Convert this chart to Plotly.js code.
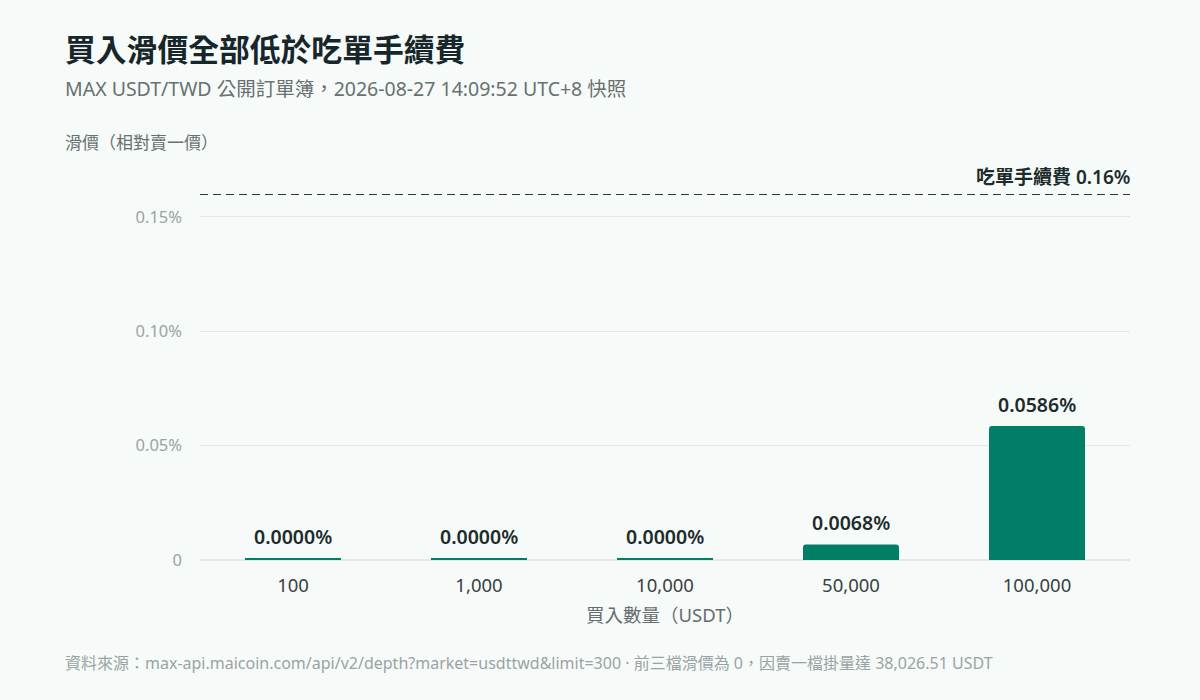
<!DOCTYPE html>
<html>
<head>
<meta charset="utf-8">
<script src="https://cdn.plot.ly/plotly-3.0.1.min.js"></script>
<style>
  html, body { margin: 0; padding: 0; background: #f6faf9; }
  #chart { width: 1200px; height: 700px; }
</style>
</head>
<body>
<div id="chart"></div>
<script>
(function () {
  // buy size in USDT, slippage in percent vs best ask
  var sizes = ["100", "1,000", "10,000", "50,000", "100,000"];
  var slippagePct = [0, 0, 0, 0.0068, 0.0586];
  var takerFeePct = 0.16;
  var yTickVals = [0, 0.05, 0.10, 0.15];
  var yTickText = ["0", "0.05%", "0.10%", "0.15%"];

  var FONT = '"Noto Sans", "Noto Sans CJK TC", sans-serif';
  var BAR = "#007f66";
  var LEFT = -0.147;

  // zero bars still get a thin stub so they are visible
  var stub = slippagePct.map(function (v) {
    return v === 0 ? 4 : 0;
  });

  // category axis: annotation x is the category index
  var barLabels = slippagePct.map(function (v, i) {
    return {
      xref: "x", yref: "y", x: i, y: v,
      xanchor: "center", yanchor: "bottom", yshift: 6 + stub[i] / 2,
      text: v.toFixed(4) + "%",
      showarrow: false,
      font: { family: FONT, size: 19.5, color: "#1c2b2b", weight: 600 },
    };
  });

  var textNotes = [
    {
      xref: "paper", yref: "y", x: 1, y: takerFeePct,
      xanchor: "right", yanchor: "bottom", yshift: 2, xshift: 2,
      text: "吃單手續費 " + takerFeePct.toFixed(2) + "%",
      showarrow: false,
      font: { family: FONT, size: 19, color: "#1c2b2b", weight: 600 },
    },
    {
      xref: "paper", yref: "paper", x: LEFT, y: 1, xanchor: "left", yanchor: "bottom",
      yshift: 122, text: "<b>買入滑價全部低於吃單手續費</b>", showarrow: false,
      font: { family: FONT, size: 30.8, color: "#17262a" },
    },
    {
      xref: "paper", yref: "paper", x: LEFT, y: 1, xanchor: "left", yanchor: "bottom",
      yshift: 90, text: "MAX USDT/TWD 公開訂單簿，2026-08-27 14:09:52 UTC+8 快照", showarrow: false,
      font: { family: FONT, size: 19.5, color: "#687070" },
    },
    {
      xref: "paper", yref: "paper", x: LEFT, y: 1, xanchor: "left", yanchor: "bottom",
      yshift: 38, text: "滑價（相對賣一價）", showarrow: false,
      font: { family: FONT, size: 17, color: "#687070" },
    },
    {
      xref: "paper", yref: "paper", x: LEFT, y: 0, xanchor: "left", yanchor: "top",
      yshift: -90,
      text: "資料來源：max-api.maicoin.com/api/v2/depth?market=usdttwd&limit=300 · 前三檔滑價為 0，因賣一檔掛量達 38,026.51 USDT",
      showarrow: false,
      font: { family: FONT, size: 16, color: "#9aa3a3" },
    },
  ];

  Plotly.newPlot(
    "chart",
    [
      {
        type: "bar",
        x: sizes,
        y: slippagePct,
        marker: { color: BAR, line: { color: BAR, width: stub } },
        hoverinfo: "skip",
      },
    ],
    {
      width: 1200,
      height: 700,
      margin: { t: 194, r: 70, b: 140, l: 200 },
      paper_bgcolor: "#f6faf9",
      plot_bgcolor: "#f6faf9",
      font: { family: FONT, color: "#333" },
      bargap: 0.484,
      barcornerradius: 3,
      showlegend: false,
      xaxis: {
        type: "category",
        range: [-0.5, sizes.length - 0.5],
        tickfont: { family: FONT, size: 18.5, color: "#3a4040" },
        ticks: "",
        ticklabelstandoff: 12,
        showgrid: false,
        showline: false,
        zeroline: false,
        title: { text: "買入數量（USDT）", font: { family: FONT, size: 18.5, color: "#666d6d" }, standoff: 13 },
      },
      yaxis: {
        range: [0, takerFeePct],
        tickvals: yTickVals,
        ticktext: yTickText,
        tickfont: { family: FONT, size: 16.5, color: "#9aa3a3" },
        ticklabelstandoff: 17,
        gridcolor: "#e4e8e8",
        gridwidth: 1,
        zeroline: true,
        zerolinecolor: "#e4e8e8",
        zerolinewidth: 2,
        showline: false,
        fixedrange: true,
      },
      shapes: [
        {
          type: "line",
          xref: "paper",
          yref: "y",
          x0: 0,
          x1: 1,
          y0: takerFeePct,
          y1: takerFeePct,
          line: { color: "#2e3636", width: 2, dash: "8px,5px" },
        },
      ],
      annotations: barLabels.concat(textNotes),
    },
    { displayModeBar: false, staticPlot: true }
  );
})();
</script>
</body>
</html>
